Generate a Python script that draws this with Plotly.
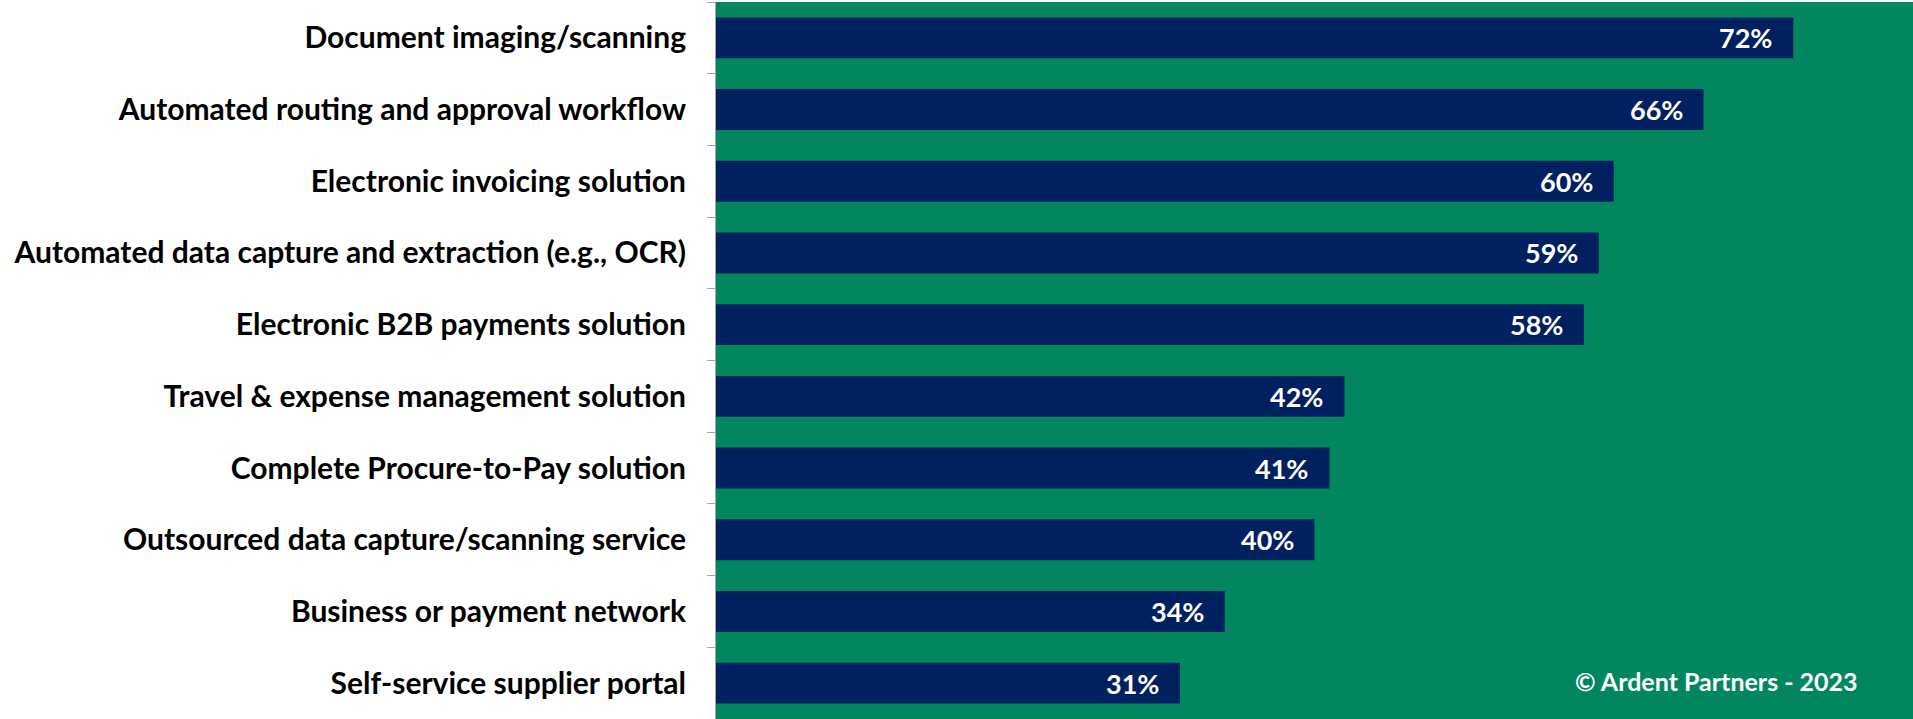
import plotly.graph_objects as go

# survey categories, top to bottom as shown
categories = [
    'Document imaging/scanning',
    'Automated routing and approval workflow',
    'Electronic invoicing solution',
    'Automated data capture and extraction (e.g., OCR)',
    'Electronic B2B payments solution',
    'Travel & expense management solution',
    'Complete Procure-to-Pay solution',
    'Outsourced data capture/scanning service',
    'Business or payment network',
    'Self-service supplier portal',
]
values = [72, 66, 60, 59, 58, 42, 41, 40, 34, 31]
labels = ['72%', '66%', '60%', '59%', '58%', '42%', '41%', '40%', '34%', '31%']

green = '#02865F'
navy = '#002060'

fig = go.Figure(go.Bar(
    x=values,
    y=categories,
    orientation='h',
    width=0.57,
    marker=dict(color=navy, line=dict(width=0)),
    hoverinfo='skip',
))

# value labels sit inside the end of each bar
for cat, val, lab in zip(categories, values, labels):
    fig.add_annotation(
        x=val, y=cat, text='<b>' + lab + '</b>',
        xanchor='right', xshift=-19, showarrow=False,
        font=dict(family='Lato', size=27, color='white'),
    )

fig.add_annotation(
    x=0.8355, y=0.053, xref='paper', yref='paper',
    text='<b>© Ardent Partners - 2023</b>', showarrow=False,
    xanchor='center', yanchor='middle',
    font=dict(family='Lato', size=25, color='white'),
)

fig.update_layout(
    width=1913, height=719,
    margin=dict(l=716, r=0, t=2, b=0),
    paper_bgcolor='white',
    plot_bgcolor=green,
    showlegend=False,
    font=dict(family='Lato', color='black'),
)
fig.update_xaxes(range=[0, 80], visible=False, showgrid=False, zeroline=False)
fig.update_yaxes(
    categoryorder='array', categoryarray=categories, autorange='reversed',
    showline=True, linecolor='#A6A6A6', linewidth=1,
    ticks='outside', ticklen=8, tickcolor='#A6A6A6', tickson='boundaries',
    ticklabelstandoff=23,
    tickfont=dict(family='Lato', size=30, color='black', weight='bold'),
    showgrid=False, zeroline=False,
)

fig.write_html('out.html', config={'displayModeBar': False},
               post_script="document.body.style.margin='0px';")
